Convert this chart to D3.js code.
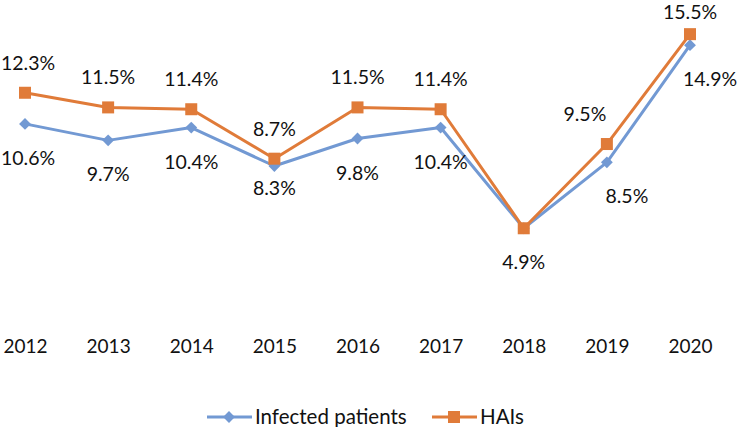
<!DOCTYPE html>
<html><head><meta charset="utf-8">
<script src="https://cdn.jsdelivr.net/npm/d3@7/dist/d3.min.js"></script>
<style>body{margin:0;background:#fff}svg{display:block;font-family:Lato,"Open Sans",sans-serif}</style>
</head><body>
<svg id="c" width="737" height="427"></svg>
<script>
const years = ["2012","2013","2014","2015","2016","2017","2018","2019","2020"];
const infected = [10.6, 9.7, 10.4, 8.3, 9.8, 10.4, 4.9, 8.5, 14.9];
const hais = [12.3, 11.5, 11.4, 8.7, 11.5, 11.4, 4.9, 9.5, 15.5];
const seriesNames = ["Infected patients", "HAIs"];
const colors = ["#7299D3", "#E07B39"];

const svg = d3.select("#c");
const x = d3.scalePoint().domain(years).range([25, 690]);
const y = d3.scaleLinear().domain([0, 16]).range([318, 25]);

// year axis (no line/ticks)
const xAxis = d3.axisBottom(x).tickSize(0).tickPadding(0);
const gx = svg.append("g").attr("transform", "translate(0,336)").call(xAxis);
gx.select(".domain").remove();
gx.selectAll("text").attr("font-size", 19).attr("fill", "#111").attr("font-family", "Lato, sans-serif").attr("dy", "0.9em");

const line = d3.line().x((d, i) => x(years[i])).y(d => y(d));

svg.append("path").datum(infected).attr("d", line).attr("fill", "none")
  .attr("stroke", colors[0]).attr("stroke-width", 3).attr("stroke-linejoin", "round");
svg.append("path").datum(hais).attr("d", line).attr("fill", "none")
  .attr("stroke", colors[1]).attr("stroke-width", 3).attr("stroke-linejoin", "round");

svg.append("g").selectAll("path").data(infected).join("path")
  .attr("d", d3.symbol().type(d3.symbolSquare).size(70))
  .attr("transform", (d, i) => `translate(${x(years[i])},${y(d)}) rotate(45)`)
  .attr("fill", colors[0]);
svg.append("g").selectAll("rect").data(hais).join("rect")
  .attr("x", (d, i) => x(years[i]) - 6).attr("y", d => y(d) - 6)
  .attr("width", 12).attr("height", 12).attr("fill", colors[1]);

// labels
const fmt = d => d.toFixed(1) + "%";
const labelNudgeX = {"2012": [3, 3], "2019": [20, -22], "2020": [20, 0]};
const labelNudgeY = {"2015": [-12, 0], "2020": [0, 8]};
svg.append("g").selectAll("text").data(infected).join("text")
  .attr("x", (d, i) => x(years[i]) + ((labelNudgeX[years[i]] || [0, 0])[0]))
  .attr("y", (d, i) => y(d) + 41 + ((labelNudgeY[years[i]] || [0, 0])[0]))
  .attr("text-anchor", "middle").attr("font-size", 19.5).attr("fill", "#111")
  .text(fmt);
svg.append("g").selectAll("text").data(hais).join("text")
  .attr("x", (d, i) => x(years[i]) + ((labelNudgeX[years[i]] || [0, 0])[1]))
  .attr("y", (d, i) => y(d) - 23 + ((labelNudgeY[years[i]] || [0, 0])[1]))
  .attr("display", (d, i) => years[i] === "2018" ? "none" : null)
  .attr("text-anchor", "middle").attr("font-size", 19.5).attr("fill", "#111")
  .text(fmt);

// legend
const lg = svg.append("g").attr("transform", "translate(0,417)");
const items = [{x: 207, tx: 255}, {x: 432, tx: 480}];
items.forEach((it, k) => {
  lg.append("line").attr("x1", it.x).attr("x2", it.x + 45).attr("y1", 0).attr("y2", 0)
    .attr("stroke", colors[k]).attr("stroke-width", 3);
  if (k === 0) {
    lg.append("path").attr("d", d3.symbol().type(d3.symbolSquare).size(70))
      .attr("transform", `translate(${it.x + 22},0) rotate(45)`).attr("fill", colors[k]);
  } else {
    lg.append("rect").attr("x", it.x + 22 - 6).attr("y", -6).attr("width", 12).attr("height", 12).attr("fill", colors[k]);
  }
  lg.append("text").attr("x", it.tx).attr("y", 6.5).attr("font-size", 20.5).attr("fill", "#111").text(seriesNames[k]);
});
</script>
</body></html>
